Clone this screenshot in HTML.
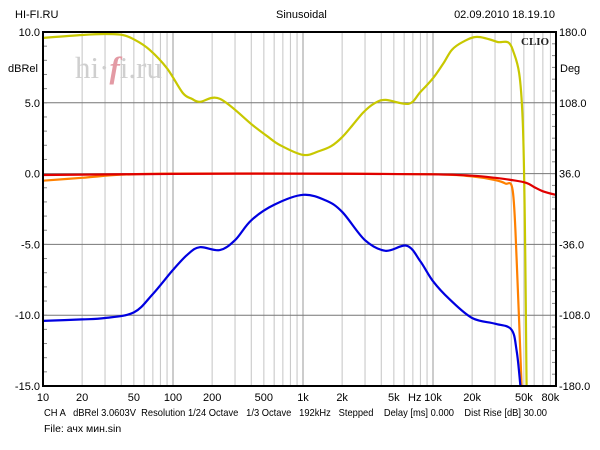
<!DOCTYPE html>
<html><head><meta charset="utf-8"><style>
body{margin:0;background:#fff;}
svg{display:block;font-family:"Liberation Sans","DejaVu Sans",sans-serif;}
</style></head><body>
<svg id="chart" width="600" height="450" viewBox="0 0 600 450">
<rect width="600" height="450" fill="#fff"/>
<g id="grid"></g>
<text x="75" y="78" font-family="Liberation Serif,serif" font-size="31" fill="#cfcfcf">hi·<tspan fill="#e39aa4" font-style="italic" font-weight="bold">f</tspan>i.ru</text>
<text x="521" y="45" font-family="Liberation Serif,serif" font-weight="bold" font-size="11" fill="#222">CLIO</text>
<g id="series"></g>
<rect x="43" y="32" width="513" height="354" fill="none" stroke="#000" stroke-width="2"/>
<g id="labels" font-size="11" fill="#000">
<text x="15" y="18">HI-FI.RU</text>
<text x="276" y="18">Sinusoidal</text>
<text x="555" y="18" text-anchor="end">02.09.2010 18.19.10</text>
<text x="38" y="72" text-anchor="end">dBRel</text>
<text x="560" y="72">Deg</text>
<text x="408" y="401">Hz</text>
<text x="44" y="416" textLength="503" lengthAdjust="spacingAndGlyphs" font-size="10.5" xml:space="preserve">CH A   dBRel 3.0603V  Resolution 1/24 Octave   1/3 Octave   192kHz   Stepped    Delay [ms] 0.000    Dist Rise [dB] 30.00</text>
<text x="44" y="432" font-size="10.5">File: ачх мин.sin</text>
</g>
</svg>
<script>
const xTickLabels=["10","20","50","100","200","500","1k","2k","5k","10k","20k","50k","80k"];
const xTickValues=[10,20,50,100,200,500,1000,2000,5000,10000,20000,50000,80000];
const yTickValues=[10,5,0,-5,-10,-15];
const yTickLabels=["10.0","5.0","0.0","-5.0","-10.0","-15.0"];
const phaseTickLabels=["180.0","108.0","36.0","-36.0","-108.0","-180.0"];
const blueFreq=[10,20,30,50,70,100,130,161,229,300,400,600,1000,1500,2000,3000,4300,6300,8000,10000,13500,20000,30000,40000,44000,47000];
const blueDb=[-10.4,-10.3,-10.2,-9.8,-8.5,-6.8,-5.7,-5.2,-5.4,-4.7,-3.3,-2.2,-1.5,-1.9,-2.7,-4.7,-5.45,-5.1,-6.2,-7.6,-8.9,-10.2,-10.6,-11.0,-12.5,-15];
const yelFreq=[10,20,30,41,51,66,90,119,140,161,230,412,530,665,1000,1340,1650,2000,2400,2900,3500,4300,6500,8000,10000,12000,14000,17000,21800,31000,41000,49000,52500];
const yelDeg=[174,177,178,177,172,162,143,118,112,109,112,85,74,65,55,59,64,73,85,98,107,111,107,119,133,148,162,170,175,170,162,90,-180];
const redFreq=[10,100,1000,10000,20000,30000,40000,52000,60000,70000,88000];
const redDb=[-0.1,-0.02,0,-0.05,-0.15,-0.3,-0.45,-0.65,-0.95,-1.25,-1.5];
const orgFreq=[10,20,40,100,1000,10000,20000,30000,36000,41000,44000,48000];
const orgDb=[-0.5,-0.3,-0.08,0,0,-0.05,-0.2,-0.45,-0.7,-1.2,-6,-15];
const L=43,R=556,T=32,B=386,DEC=130,DBTOP=10,DBBOT=-15;
const xs=f=>L+(Math.log10(f)-1)*DEC;
const yDb=d=>T+(DBTOP-d)/(DBTOP-DBBOT)*(B-T);
const yDeg=g=>T+(180-g)/360*(B-T);
const NS="http://www.w3.org/2000/svg";
function mk(tag,attrs,parent){const e=document.createElementNS(NS,tag);for(const k in attrs)e.setAttribute(k,attrs[k]);parent.appendChild(e);return e;}
const grid=document.getElementById('grid');
for(let d=1;d<=4;d++)for(let m=1;m<=9;m++){const f=m*Math.pow(10,d);const x=xs(f);if(x<=L||x>=R)continue;
const ln=mk('line',{x1:x,y1:T,x2:x,y2:B,stroke:m===1?'#999':'#c4c4c4','stroke-width':1},grid);

}
yTickValues.forEach(v=>{const y=yDb(v);const ln=mk('line',{x1:L,y1:y,x2:R,y2:y,stroke:'#777','stroke-width':1},grid);

});
for(let g=-180;g<=180;g+=12){const y=yDeg(g);const t=mk('line',{x1:R-4,y1:y,x2:R,y2:y,stroke:'#888','stroke-width':1},grid);

}
for(let v=-15;v<=10;v+=1){const y=yDb(v);const t=mk('line',{x1:L,y1:y,x2:L+4,y2:y,stroke:'#888','stroke-width':1},grid);

}
const labels=document.getElementById('labels');
yTickValues.forEach((v,i)=>{const y=yDb(v)+4;
const a=mk('text',{x:40,y:y,'text-anchor':'end'},labels);a.textContent=yTickLabels[i];


const b=mk('text',{x:559,y:y},labels);b.textContent=phaseTickLabels[i];

});
xTickValues.forEach((v,i)=>{const t=mk('text',{x:xs(v),y:401,'text-anchor':'middle'},labels);t.textContent=xTickLabels[i];

});
function path(pts){let d='M'+pts[0][0].toFixed(1)+','+pts[0][1].toFixed(1);
for(let i=0;i<pts.length-1;i++){const p0=pts[Math.max(0,i-1)],p1=pts[i],p2=pts[i+1],p3=pts[Math.min(pts.length-1,i+2)];
const c1x=p1[0]+(p2[0]-p0[0])/6,c1y=p1[1]+(p2[1]-p0[1])/6,c2x=p2[0]-(p3[0]-p1[0])/6,c2y=p2[1]-(p3[1]-p1[1])/6;
d+=' C'+c1x.toFixed(1)+','+c1y.toFixed(1)+' '+c2x.toFixed(1)+','+c2y.toFixed(1)+' '+p2[0].toFixed(1)+','+p2[1].toFixed(1);}
return d;}
const series=document.getElementById('series');
function draw(fr,vals,yf,color,name){const pts=fr.map((f,i)=>[xs(f),yf(vals[i])]);
const p=mk('path',{d:path(pts),fill:'none',stroke:color,'stroke-width':2.2,'stroke-linejoin':'round'},series);

}
draw(yelFreq,yelDeg,yDeg,'#c8c800','phase-curve');
draw(orgFreq,orgDb,yDb,'#ff8000','orange-curve');
draw(redFreq,redDb,yDb,'#e00000','red-curve');
draw(blueFreq,blueDb,yDb,'#0000e0','magnitude-curve');
</script>
</body></html>
